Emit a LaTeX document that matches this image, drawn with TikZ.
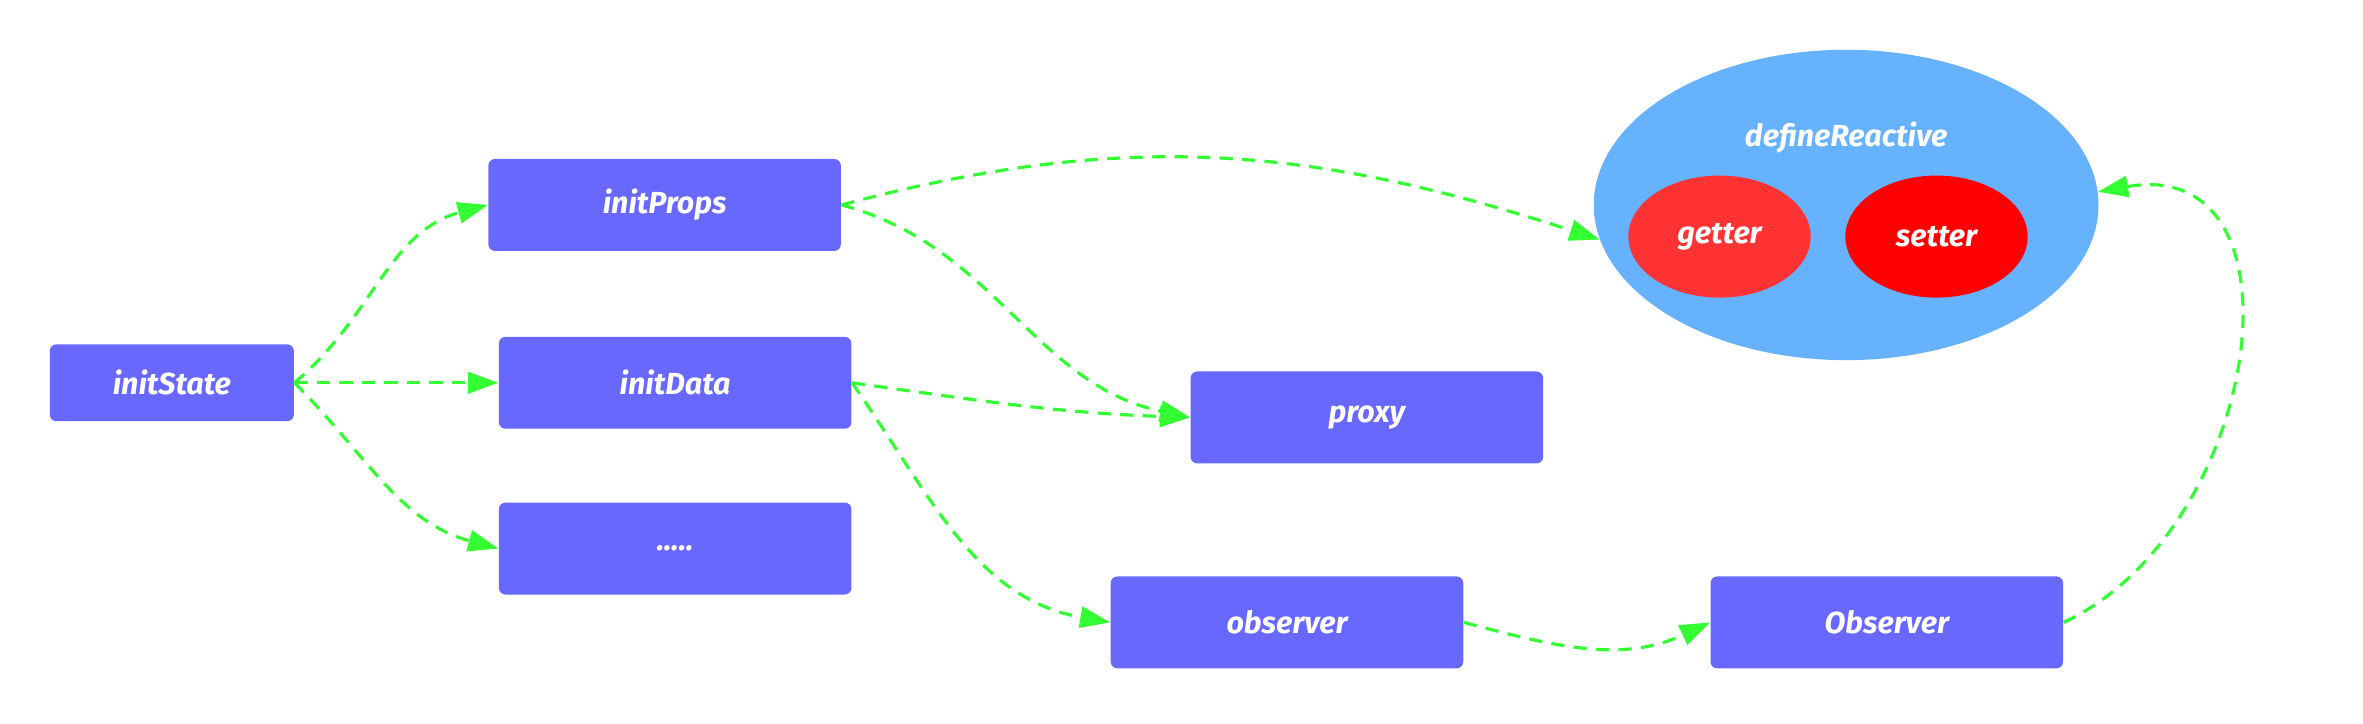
\documentclass[tikz,border=0pt]{standalone}
\usepackage{fontspec}
\setmainfont{Fira Sans}[BoldItalicFont={* Bold Italic}]
\usetikzlibrary{arrows.meta,shapes.geometric}

\definecolor{boxblue}{HTML}{6868FF}
\definecolor{skyblue}{HTML}{66B2FF}
\definecolor{getred}{HTML}{FF3333}
\definecolor{setred}{HTML}{FF0000}
\definecolor{flowgreen}{HTML}{33FF33}

\begin{document}
\begin{tikzpicture}[x=0.02cm,y=0.02cm,>={Triangle[length=0.4cm,width=0.28cm]},
  main node/.style={rectangle,rounded corners=2.5pt,fill=boxblue,text=white,
    minimum width=4.68cm,minimum height=1.22cm,inner sep=0pt,
    font=\bfseries\itshape\fontsize{11.5}{13}\selectfont},
  small node/.style={main node,minimum width=3.24cm,minimum height=1.02cm},
  egg node/.style={ellipse,text=white,inner sep=0pt,
    font=\bfseries\itshape\fontsize{11.5}{13}\selectfont},
  flow/.style={->,draw=flowgreen,line width=1.2pt,
    dash pattern=on 5pt off 3.5pt}]

  \useasboundingbox (0,0) rectangle (1568,480);

  \node[small node] (state) at (114,226) {initState};
  \node[main node] (props) at (441,344) {initProps};
  \node[main node] (data) at (448,226) {initData};
  \node[main node] (dots) at (448,116) {.....};
  \node[main node] (proxy) at (907,203) {proxy};
  \node[main node] (obs) at (854,67) {observer};
  \node[main node] (Obs) at (1252,67) {Observer};

  \node[egg node,fill=skyblue,minimum width=6.7cm,minimum height=4.12cm] (dr) at (1225,344) {};
  \node[egg node] (drlabel) at (1225,389) {defineReactive};
  \node[egg node,fill=getred,minimum width=2.42cm,minimum height=1.62cm] (get) at (1141,323) {getter};
  \node[egg node,fill=setred,minimum width=2.42cm,minimum height=1.62cm] (set) at (1285,323) {setter};

  \path[every edge/.append style={flow}]
    (state.east) edge[out=40,in=195] (props.west)
                 edge (data.west)
                 edge[out=-45,in=165] (dots.west)
    (props.east) edge[out=15,in=162] (dr.188)
                 edge[out=-15,in=168] (proxy.west)
    (data.east)  edge[out=-8,in=178] (proxy.west)
                 edge[out=-55,in=170] (obs.west)
    (obs.east)   edge[out=-15,in=205] (Obs.west)
    (Obs.east)   edge[out=25,in=10,looseness=1.3] (dr.3);
\end{tikzpicture}
\end{document}
